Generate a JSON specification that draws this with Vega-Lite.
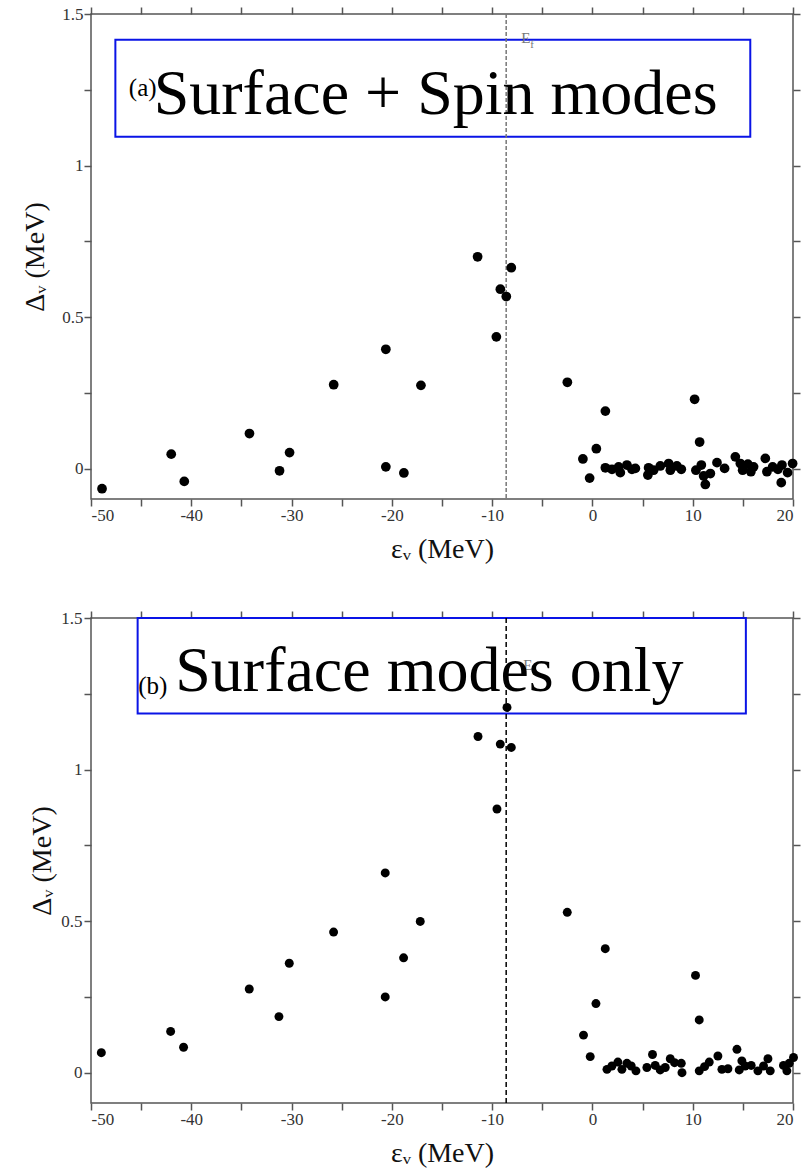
{
  "$schema": "https://vega.github.io/schema/vega-lite/v6.json",
  "padding": {"left": 21, "top": 4, "right": 5, "bottom": 5},
  "spacing": 44,
  "datasets": {
    "a_pts": [
      {"e": -48.9, "d": -0.066}, {"e": -42.0, "d": 0.048}, {"e": -40.7, "d": -0.042}, {"e": -34.2, "d": 0.116},
      {"e": -31.2, "d": -0.007}, {"e": -30.2, "d": 0.053}, {"e": -25.8, "d": 0.277}, {"e": -20.6, "d": 0.394},
      {"e": -20.6, "d": 0.006}, {"e": -18.8, "d": -0.014}, {"e": -17.1, "d": 0.275}, {"e": -11.45, "d": 0.699},
      {"e": -9.58, "d": 0.435}, {"e": -9.18, "d": 0.592}, {"e": -8.59, "d": 0.568}, {"e": -8.09, "d": 0.663},
      {"e": -2.5, "d": 0.285}, {"e": -0.95, "d": 0.032}, {"e": -0.28, "d": -0.031}, {"e": 0.39, "d": 0.066},
      {"e": 1.29, "d": 0.19}, {"e": 10.19, "d": 0.229}, {"e": 10.69, "d": 0.088},
      {"e": 1.29, "d": 0.003}, {"e": 1.95, "d": -0.002}, {"e": 2.61, "d": 0.006}, {"e": 2.78, "d": -0.013},
      {"e": 3.44, "d": 0.012}, {"e": 3.94, "d": -0.002}, {"e": 4.28, "d": 0.001}, {"e": 5.6, "d": 0.003},
      {"e": 5.53, "d": -0.021}, {"e": 6.1, "d": -0.005}, {"e": 6.77, "d": 0.009}, {"e": 7.6, "d": 0.017},
      {"e": 7.77, "d": -0.005}, {"e": 8.42, "d": 0.009}, {"e": 8.86, "d": -0.002}, {"e": 10.32, "d": -0.005},
      {"e": 10.86, "d": 0.012}, {"e": 11.09, "d": -0.024}, {"e": 11.26, "d": -0.052}, {"e": 11.76, "d": -0.016},
      {"e": 12.42, "d": 0.02}, {"e": 13.18, "d": 0.001}, {"e": 14.25, "d": 0.039}, {"e": 14.75, "d": 0.017},
      {"e": 14.98, "d": -0.005}, {"e": 15.5, "d": 0.015}, {"e": 15.8, "d": -0.01}, {"e": 16.07, "d": 0.006},
      {"e": 17.24, "d": 0.034}, {"e": 17.4, "d": -0.01}, {"e": 17.97, "d": 0.006}, {"e": 18.5, "d": -0.002},
      {"e": 18.9, "d": 0.012}, {"e": 18.83, "d": -0.046}, {"e": 19.46, "d": -0.013}, {"e": 19.96, "d": 0.017}
    ],
    "b_pts": [
      {"e": -48.97, "d": 0.066}, {"e": -42.06, "d": 0.136}, {"e": -40.77, "d": 0.084}, {"e": -34.22, "d": 0.276},
      {"e": -31.26, "d": 0.185}, {"e": -30.23, "d": 0.361}, {"e": -25.81, "d": 0.464}, {"e": -20.66, "d": 0.659},
      {"e": -20.66, "d": 0.25}, {"e": -18.83, "d": 0.379}, {"e": -17.17, "d": 0.499}, {"e": -11.41, "d": 1.109},
      {"e": -9.52, "d": 0.87}, {"e": -9.19, "d": 1.084}, {"e": -8.52, "d": 1.205}, {"e": -8.09, "d": 1.073},
      {"e": -2.51, "d": 0.529}, {"e": -0.89, "d": 0.124}, {"e": -0.22, "d": 0.053}, {"e": 0.35, "d": 0.228},
      {"e": 1.28, "d": 0.409}, {"e": 10.28, "d": 0.321}, {"e": 10.65, "d": 0.174},
      {"e": 1.45, "d": 0.011}, {"e": 1.94, "d": 0.022}, {"e": 2.54, "d": 0.035}, {"e": 2.94, "d": 0.011},
      {"e": 3.44, "d": 0.031}, {"e": 3.87, "d": 0.022}, {"e": 4.34, "d": 0.006}, {"e": 5.43, "d": 0.017},
      {"e": 5.99, "d": 0.06}, {"e": 6.26, "d": 0.024}, {"e": 6.76, "d": 0.009}, {"e": 7.26, "d": 0.017},
      {"e": 7.76, "d": 0.046}, {"e": 8.19, "d": 0.033}, {"e": 8.86, "d": 0.031}, {"e": 8.93, "d": 0.0},
      {"e": 10.65, "d": 0.006}, {"e": 11.18, "d": 0.02}, {"e": 11.65, "d": 0.035}, {"e": 12.51, "d": 0.055},
      {"e": 12.91, "d": 0.011}, {"e": 13.51, "d": 0.013}, {"e": 14.41, "d": 0.077}, {"e": 14.64, "d": 0.009},
      {"e": 14.9, "d": 0.039}, {"e": 15.23, "d": 0.022}, {"e": 15.83, "d": 0.024}, {"e": 16.5, "d": 0.006},
      {"e": 17.06, "d": 0.022}, {"e": 17.5, "d": 0.046}, {"e": 17.73, "d": 0.006}, {"e": 19.05, "d": 0.024},
      {"e": 19.39, "d": 0.006}, {"e": 19.62, "d": 0.031}, {"e": 20.05, "d": 0.05}
    ],
    "a_box": [{"x1": -47.57, "x2": 15.74, "y1": 1.095, "y2": 1.415}],
    "b_box": [{"x1": -45.35, "x2": 15.3, "y1": 1.185, "y2": 1.5}],
    "a_ef": [{"e": -8.6, "lx": -7.1, "ly": 1.405, "t": "E"}],
    "b_ef": [{"e": -8.6, "lx": -6.9, "ly": 1.33, "t": "E"}],
    "a_txt": [{"x": -43.75, "y": 1.171, "t": "Surface + Spin modes", "k": "big"}, {"x": -46.23, "y": 1.23, "t": "(a)", "k": "tag"}],
    "b_txt": [{"x": -41.6, "y": 1.26, "t": "Surface modes only", "k": "big"}, {"x": -45.3, "y": 1.249, "t": "(b)", "k": "tag"}]
  },
  "vconcat": [
    {
      "width": 702,
      "height": 485,
      "resolve": {"axis": {"x": "independent", "y": "independent"}},
      "layer": [
        {
          "data": {"name": "a_box"},
          "mark": {"type": "rect", "fill": "white", "fillOpacity": 0, "stroke": "#0a14e6", "strokeWidth": 2},
          "encoding": {
            "x": {"field": "x1", "type": "quantitative", "scale": {"domain": [-50, 20], "nice": false, "zero": false},
                  "axis": {"orient": "top", "title": null, "labels": false, "domain": false, "values": [-50,-45,-40,-35,-30,-25,-20,-15,-10,-5,0,5,10,15,20], "ticks": true, "tickSize": 7, "tickColor": "#555555", "tickWidth": 1.5}},
            "x2": {"field": "x2"},
            "y": {"field": "y1", "type": "quantitative", "scale": {"domain": [-0.1, 1.5], "nice": false, "zero": false},
                  "axis": {"orient": "right", "title": null, "labels": false, "domain": false, "values": [0, 0.25, 0.5, 0.75, 1, 1.25, 1.5], "ticks": true, "tickSize": 7, "tickColor": "#555555", "tickWidth": 1.5}},
            "y2": {"field": "y2"}
          }
        },
        {
          "data": {"name": "a_ef"},
          "mark": {"type": "rule", "color": "#777777", "strokeWidth": 1.5, "strokeDash": [4, 2]},
          "encoding": {"x": {"field": "e", "type": "quantitative", "axis": null}}
        },
        {
          "data": {"name": "a_ef"},
          "mark": {"type": "text", "font": "Liberation Serif", "fontSize": 15, "color": "#777777", "align": "left", "baseline": "alphabetic"},
          "encoding": {"x": {"field": "lx", "type": "quantitative", "axis": null}, "y": {"field": "ly", "type": "quantitative", "axis": null}, "text": {"field": "t"}}
        },
        {
          "data": {"name": "a_ef"},
          "mark": {"type": "text", "font": "Liberation Serif", "fontSize": 11, "color": "#777777", "align": "left", "baseline": "alphabetic", "dx": 9, "dy": 5, "text": "f"},
          "encoding": {"x": {"field": "lx", "type": "quantitative", "axis": null}, "y": {"field": "ly", "type": "quantitative", "axis": null}}
        },
        {
          "data": {"name": "a_pts"},
          "mark": {"type": "circle", "size": 95, "color": "black", "opacity": 1},
          "encoding": {
            "x": {"field": "e", "type": "quantitative",
                  "axis": {"orient": "bottom", "title": "εᵥ (MeV)", "values": [-50,-45,-40,-35,-30,-25,-20,-15,-10,-5,0,5,10,15,20], "ticks": true, "tickSize": 7, "tickColor": "#555555", "tickWidth": 1.5, "domain": false,
                           "labelExpr": "datum.value % 10 === 0 ? '' + datum.value : ''", "labelPadding": 1, "titlePadding": 12,
                           "labelFont": "Liberation Serif", "titleFont": "Liberation Serif"}},
            "y": {"field": "d", "type": "quantitative",
                  "axis": {"orient": "left", "title": "Δᵥ (MeV)", "values": [0, 0.25, 0.5, 0.75, 1, 1.25, 1.5], "ticks": true, "tickSize": 7, "tickColor": "#555555", "tickWidth": 1.5, "domain": false,
                           "labelExpr": "(datum.value * 2) % 1 === 0 ? '' + datum.value : ''", "labelPadding": 1, "titlePadding": 12,
                           "labelFont": "Liberation Serif", "titleFont": "Liberation Serif"}}
          }
        },
        {
          "data": {"name": "a_txt"},
          "mark": {"type": "text", "font": "Liberation Serif", "align": "left", "baseline": "alphabetic", "color": "black"},
          "encoding": {
            "x": {"field": "x", "type": "quantitative", "axis": null},
            "y": {"field": "y", "type": "quantitative", "axis": null},
            "text": {"field": "t"},
            "size": {"field": "k", "type": "nominal", "scale": {"domain": ["big", "tag"], "range": [64, 25]}, "legend": null}
          }
        }
      ]
    },
    {
      "width": 702,
      "height": 485,
      "resolve": {"axis": {"x": "independent", "y": "independent"}},
      "layer": [
        {
          "data": {"name": "b_box"},
          "mark": {"type": "rect", "fill": "white", "fillOpacity": 0, "stroke": "#0a14e6", "strokeWidth": 2},
          "encoding": {
            "x": {"field": "x1", "type": "quantitative", "scale": {"domain": [-50, 20], "nice": false, "zero": false},
                  "axis": {"orient": "top", "title": null, "labels": false, "domain": false, "values": [-50,-45,-40,-35,-30,-25,-20,-15,-10,-5,0,5,10,15,20], "ticks": true, "tickSize": 7, "tickColor": "#555555", "tickWidth": 1.5}},
            "x2": {"field": "x2"},
            "y": {"field": "y1", "type": "quantitative", "scale": {"domain": [-0.1, 1.5], "nice": false, "zero": false},
                  "axis": {"orient": "right", "title": null, "labels": false, "domain": false, "values": [0, 0.25, 0.5, 0.75, 1, 1.25, 1.5], "ticks": true, "tickSize": 7, "tickColor": "#555555", "tickWidth": 1.5}},
            "y2": {"field": "y2"}
          }
        },
        {
          "data": {"name": "b_ef"},
          "mark": {"type": "rule", "color": "black", "strokeWidth": 1.5, "strokeDash": [5, 3]},
          "encoding": {"x": {"field": "e", "type": "quantitative", "axis": null}}
        },
        {
          "data": {"name": "b_ef"},
          "mark": {"type": "text", "font": "Liberation Serif", "fontSize": 15, "color": "#777777", "align": "left", "baseline": "alphabetic"},
          "encoding": {"x": {"field": "lx", "type": "quantitative", "axis": null}, "y": {"field": "ly", "type": "quantitative", "axis": null}, "text": {"field": "t"}}
        },
        {
          "data": {"name": "b_ef"},
          "mark": {"type": "text", "font": "Liberation Serif", "fontSize": 11, "color": "#777777", "align": "left", "baseline": "alphabetic", "dx": 9, "dy": 5, "text": "f"},
          "encoding": {"x": {"field": "lx", "type": "quantitative", "axis": null}, "y": {"field": "ly", "type": "quantitative", "axis": null}}
        },
        {
          "data": {"name": "b_pts"},
          "mark": {"type": "circle", "size": 80, "color": "black", "opacity": 1},
          "encoding": {
            "x": {"field": "e", "type": "quantitative",
                  "axis": {"orient": "bottom", "title": "εᵥ (MeV)", "values": [-50,-45,-40,-35,-30,-25,-20,-15,-10,-5,0,5,10,15,20], "ticks": true, "tickSize": 7, "tickColor": "#555555", "tickWidth": 1.5, "domain": false,
                           "labelExpr": "datum.value % 10 === 0 ? '' + datum.value : ''", "labelPadding": 1, "titlePadding": 12,
                           "labelFont": "Liberation Serif", "titleFont": "Liberation Serif"}},
            "y": {"field": "d", "type": "quantitative",
                  "axis": {"orient": "left", "title": "Δᵥ (MeV)", "values": [0, 0.25, 0.5, 0.75, 1, 1.25, 1.5], "ticks": true, "tickSize": 7, "tickColor": "#555555", "tickWidth": 1.5, "domain": false,
                           "labelExpr": "(datum.value * 2) % 1 === 0 ? '' + datum.value : ''", "labelPadding": 2, "titlePadding": 4,
                           "labelFont": "Liberation Serif", "titleFont": "Liberation Serif"}}
          }
        },
        {
          "data": {"name": "b_txt"},
          "mark": {"type": "text", "font": "Liberation Serif", "align": "left", "baseline": "alphabetic", "color": "black"},
          "encoding": {
            "x": {"field": "x", "type": "quantitative", "axis": null},
            "y": {"field": "y", "type": "quantitative", "axis": null},
            "text": {"field": "t"},
            "size": {"field": "k", "type": "nominal", "scale": {"domain": ["big", "tag"], "range": [64, 25]}, "legend": null}
          }
        }
      ]
    }
  ],
  "config": {
    "view": {"stroke": "#555555", "strokeWidth": 1.5},
    "axis": {
      "grid": false,
      "domainColor": "#555555", "domainWidth": 1.5,
      "labelFont": "Liberation Serif", "labelFontSize": 17, "labelColor": "#333333",
      "titleFont": "Liberation Serif", "titleFontSize": 28, "titleFontWeight": "normal", "titleColor": "#111111"
    }
  }
}
